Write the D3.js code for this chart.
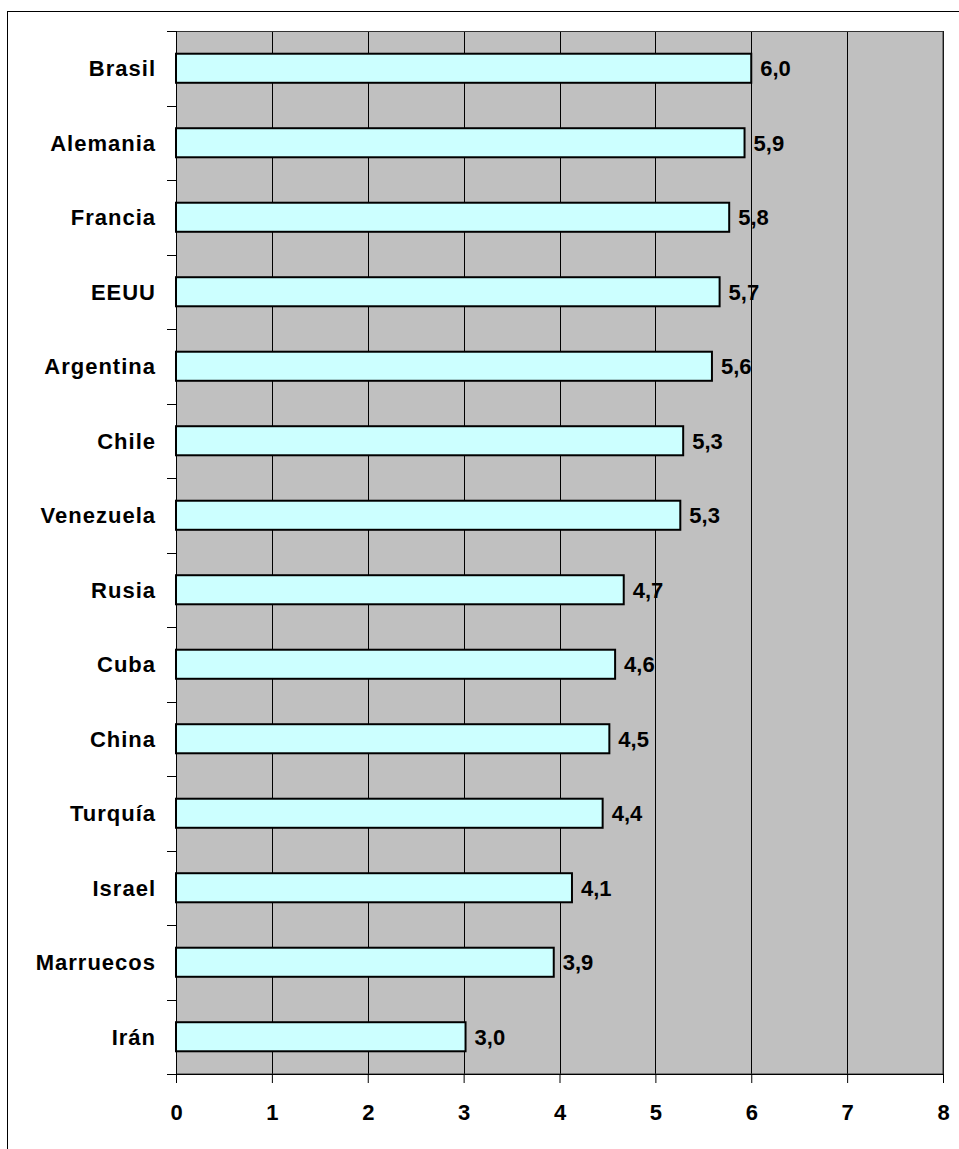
<!DOCTYPE html>
<html>
<head>
<meta charset="utf-8">
<script src="https://cdn.jsdelivr.net/npm/d3@7"></script>
<style>
  html, body { margin: 0; padding: 0; background: #fff; }
  svg { display: block; }
  text { font-family: "Liberation Sans", Arial, sans-serif; font-weight: bold; fill: #000; }
</style>
</head>
<body>
<svg id="chart" width="959" height="1149"></svg>
<script>
const categories = ["Brasil", "Alemania", "Francia", "EEUU", "Argentina", "Chile", "Venezuela", "Rusia", "Cuba", "China", "Turquía", "Israel", "Marruecos", "Irán"];
const values = [6.0, 5.93, 5.77, 5.67, 5.59, 5.29, 5.26, 4.67, 4.58, 4.52, 4.45, 4.13, 3.94, 3.02];
const valueLabels = ["6,0", "5,9", "5,8", "5,7", "5,6", "5,3", "5,3", "4,7", "4,6", "4,5", "4,4", "4,1", "3,9", "3,0"];
const xTicks = [0, 1, 2, 3, 4, 5, 6, 7, 8];

const svg = d3.select("#chart");
const plot = { left: 176, top: 31, right: 943, bottom: 1074 };
const FS = 22;

// outer frame (extends beyond the picture on right/bottom)
svg.append("rect")
  .attr("x", 7.5).attr("y", 11.5)
  .attr("width", 1100).attr("height", 1300)
  .attr("fill", "#fff").attr("stroke", "#000").attr("stroke-width", 1);

const x = d3.scaleLinear().domain([0, 8]).range([plot.left, plot.right]);
const y = d3.scaleBand().domain(categories).range([plot.top, plot.bottom]).paddingInner(0.61).paddingOuter(0.305);
const yFull = d3.scaleBand().domain(categories).range([plot.top, plot.bottom]);

// plot background
svg.append("rect")
  .attr("x", plot.left).attr("y", plot.top)
  .attr("width", plot.right - plot.left).attr("height", plot.bottom - plot.top)
  .attr("fill", "#c0c0c0");

// vertical gridlines
svg.append("g").selectAll("line").data(xTicks.slice(1)).join("line")
  .attr("x1", d => Math.round(x(d)) + 0.5).attr("x2", d => Math.round(x(d)) + 0.5)
  .attr("y1", plot.top).attr("y2", plot.bottom)
  .attr("stroke", "#000").attr("stroke-width", 1);

// plot border
svg.append("rect")
  .attr("x", plot.left + 0.5).attr("y", plot.top + 0.5)
  .attr("width", plot.right - plot.left - 0.5).attr("height", plot.bottom - plot.top - 0.5)
  .attr("fill", "none").attr("stroke", "#333").attr("stroke-width", 1);

// bars
svg.append("g").selectAll("rect").data(categories).join("rect")
  .attr("x", x(0))
  .attr("y", (d) => y(d))
  .attr("width", (d, i) => x(values[i]) - x(0))
  .attr("height", y.bandwidth())
  .attr("fill", "#ccffff")
  .attr("stroke", "#000").attr("stroke-width", 2);

// value labels
svg.append("g").selectAll("text").data(categories).join("text")
  .attr("x", (d, i) => x(values[i]) + 9)
  .attr("y", d => y(d) + y.bandwidth() / 2 + 8)
  .attr("font-size", FS)
  .text((d, i) => valueLabels[i]);

// y axis (category boundary ticks on left)
const yBoundaries = categories.map(c => yFull(c)).concat([plot.bottom]);
svg.append("g").selectAll("line").data(yBoundaries).join("line")
  .attr("x1", plot.left - 9).attr("x2", plot.left)
  .attr("y1", d => Math.round(d) + 0.5).attr("y2", d => Math.round(d) + 0.5)
  .attr("stroke", "#000").attr("stroke-width", 1);
svg.append("line")
  .attr("x1", plot.left + 0.5).attr("x2", plot.left + 0.5)
  .attr("y1", plot.top).attr("y2", plot.bottom)
  .attr("stroke", "#000").attr("stroke-width", 1);

// category labels
svg.append("g").selectAll("text").data(categories).join("text")
  .attr("x", 156)
  .attr("y", d => yFull(d) + yFull.bandwidth() / 2 + 8)
  .attr("text-anchor", "end")
  .attr("font-size", FS)
  .attr("letter-spacing", 1)
  .text(d => d);

// x axis
const xAxis = d3.axisBottom(x).tickValues(xTicks).tickSize(9).tickPadding(21).tickFormat(d3.format("d"));
const gx = svg.append("g").attr("transform", `translate(0,${plot.bottom})`).call(xAxis);
gx.select(".domain").attr("stroke", "#000").attr("d", `M${plot.left},0.5H${plot.right}`);
gx.selectAll(".tick line").attr("stroke", "#000");
gx.selectAll(".tick text").attr("font-size", FS).attr("font-family", "Liberation Sans, Arial, sans-serif").attr("font-weight", "bold").attr("fill", "#000");
</script>
</body>
</html>
